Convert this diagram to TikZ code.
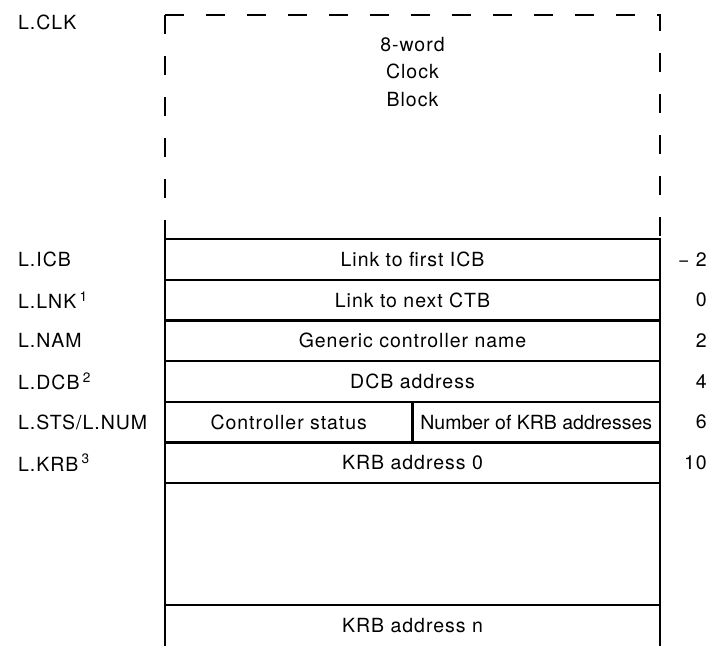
\documentclass[tikz,border=0pt]{standalone}
\usepackage{fontspec}
\setmainfont{TeX Gyre Heros}[LetterSpace=5]
\usetikzlibrary{positioning,calc}
\tikzset{
  cell/.style={draw,line width=2.4pt,minimum width=495pt,minimum height=40.7pt,inner sep=0pt,outer sep=0pt},
  halfcell/.style={cell,minimum width=247.5pt},
  lbl/.style={anchor=west,inner sep=0pt},
  offs/.style={anchor=east,inner sep=0pt},
  clkline/.style={line width=2.4pt,dash pattern=on 19pt off 22pt}
}
\begin{document}
\begin{tikzpicture}[x=1pt,y=-1pt,font=\fontsize{19.5}{22}\selectfont]
\useasboundingbox (0,0) rectangle (709,646);
    % word cells of the block
    \node[cell] (icb) at (412.5,259.35) {Link to first ICB};
    \node[cell,below=0pt of icb] (lnk) {Link to next CTB};
    \node[cell,below=0pt of lnk] (nam) {Generic controller name};
    \node[cell,below=0pt of nam] (dcb) {DCB address};
    \node[halfcell,below right=0pt and 0pt of dcb.south west] (sts) {Controller status};
    \node[halfcell,below left=0pt and 0pt of dcb.south east,
          font=\fontsize{19.5}{22}\selectfont\addfontfeature{LetterSpace=0}] (num) {Number of KRB addresses};
    \node[cell,below=0pt of sts.south west,anchor=north west] (krb0) {KRB address 0};
    \node[cell,minimum height=122pt,below=0pt of krb0] (krbgap) {};
    \node[cell,draw=none,below=0pt of krbgap] (krbn) {KRB address n};
    \draw[line width=2.4pt] (krbn.south west) -- (krbn.north west) -- (krbn.north east) -- (krbn.south east);

    % clock block, dashed
    \node[align=center,font=\fontsize{19.5}{27.5}\selectfont] (clk) at (412.5,72) {8-word\\Clock\\Block};
    \draw[clkline] (icb.north west |- 0,15) -- (icb.north west);
    \draw[clkline] (icb.north west |- 0,15) -- (icb.north east |- 0,15) -- (icb.north east);

    % symbolic offsets
    \node[lbl] (lclk) at (18,22) {L.CLK};
    \node[lbl] (licb) at (18,0 |- icb) {L.ICB};
    \node[lbl] (llnk) at (18,0 |- lnk) {L.LNK\,\textsuperscript{1}};
    \node[lbl] (lnam) at (18,0 |- nam) {L.NAM};
    \node[lbl] (ldcb) at (18,0 |- dcb) {L.DCB\,\textsuperscript{2}};
    \node[lbl] (lsts) at (18,0 |- sts) {L.STS/L.NUM};
    \node[lbl] (lkrb) at (18,0 |- krb0) {L.KRB\,\textsuperscript{3}};

    % byte offsets
    \node[offs] (oicb) at (707,0 |- icb) {−\,\,2};
    \node[offs] (olnk) at (707,0 |- lnk) {0};
    \node[offs] (onam) at (707,0 |- nam) {2};
    \node[offs] (odcb) at (707,0 |- dcb) {4};
    \node[offs] (osts) at (707,0 |- sts) {6};
    \node[offs] (okrb) at (707,0 |- krb0) {10};
\end{tikzpicture}
\end{document}
